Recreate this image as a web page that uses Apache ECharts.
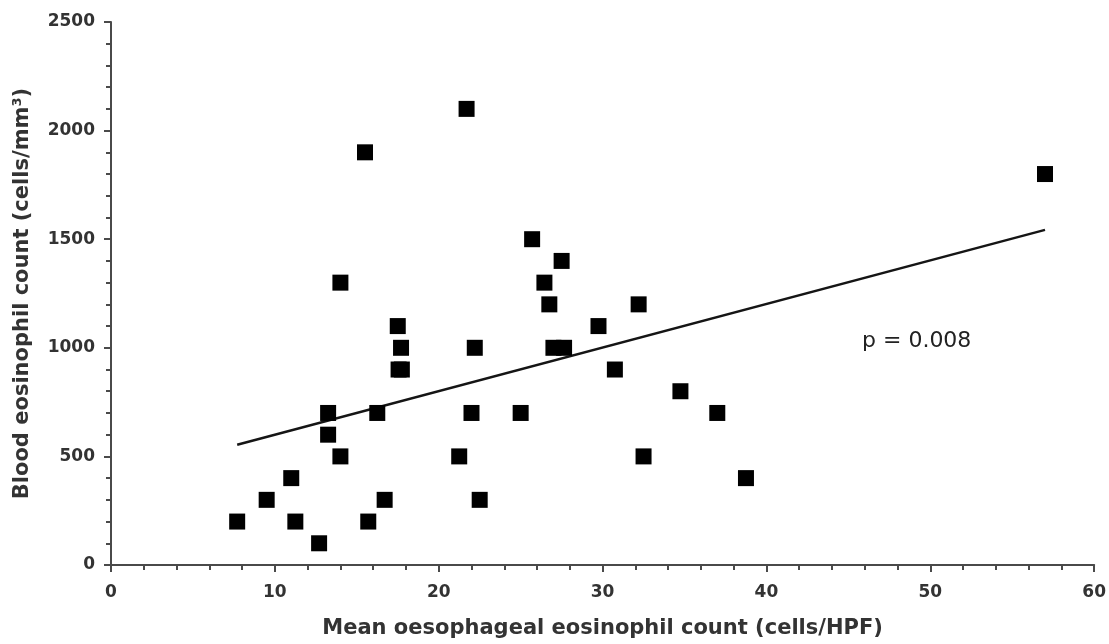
<!DOCTYPE html>
<html>
<head>
<meta charset="utf-8">
<title>Blood vs oesophageal eosinophil count</title>
<script src="https://cdn.jsdelivr.net/npm/echarts@6/dist/echarts.min.js"></script>
<style>
  html, body { margin: 0; padding: 0; background: #ffffff; }
  #chart { width: 1109px; height: 644px; }
</style>
</head>
<body>
<div id="chart"></div>
<script>
// Mean oesophageal eosinophil count (cells/HPF) per patient
const oesophagealCounts = [
  7.7, 9.5, 11.0, 11.25, 12.7, 13.25, 13.25, 14.0, 14.0, 15.5,
  15.7, 16.25, 16.7, 17.5, 17.7, 17.55, 17.75, 21.25, 21.7, 22.0,
  22.2, 22.5, 25.0, 25.7, 26.45, 26.75, 27.5, 27.0, 27.65, 29.75,
  30.75, 32.2, 32.5, 34.75, 37.0, 38.75, 57.0
];
// Blood eosinophil count (cells/mm³) for the same patients
const bloodCounts = [
  200, 300, 400, 200, 100, 700, 600, 500, 1300, 1900,
  200, 700, 300, 1100, 1000, 900, 900, 500, 2100, 700,
  1000, 300, 700, 1500, 1300, 1200, 1400, 1000, 1000, 1100,
  900, 1200, 500, 800, 700, 400, 1800
];
// Linear regression line end points [x, y]
const fitLine = [[7.7, 554], [57.0, 1543]];
const pLabel = 'p = 0.008';

const xTicks = { min: 0, max: 60, interval: 10 };
const yTicks = { min: 0, max: 2500, interval: 500 };

const points = oesophagealCounts.map((x, i) => [x, bloodCounts[i]]);

const FONT = '"DejaVu Sans", sans-serif';
const axisColor = '#4a4a4a';
const textColor = '#333333';

const chart = echarts.init(document.getElementById('chart'), null, { renderer: 'canvas' });

chart.setOption({
  backgroundColor: '#ffffff',
  animation: false,
  grid: { left: 111, right: 13, top: 22, bottom: 76, containLabel: false },
  xAxis: {
    type: 'value',
    min: xTicks.min, max: xTicks.max, interval: xTicks.interval,
    name: 'Mean oesophageal eosinophil count (cells/HPF)',
    nameLocation: 'middle',
    nameGap: 53,
    nameTextStyle: { fontFamily: FONT, fontWeight: 'bold', fontSize: 21, color: textColor },
    axisLine: { show: true, lineStyle: { color: axisColor, width: 2 } },
    axisTick: { show: true, inside: false, length: 7, lineStyle: { color: axisColor, width: 2 } },
    minorTick: { show: true, splitNumber: 5, length: 5, lineStyle: { color: axisColor, width: 2 } },
    splitLine: { show: false },
    axisLabel: {
      margin: 19, fontFamily: FONT, fontWeight: 'bold', fontSize: 17, color: textColor,
      formatter: v => String(v)
    }
  },
  yAxis: {
    type: 'value',
    min: yTicks.min, max: yTicks.max, interval: yTicks.interval,
    name: 'Blood eosinophil count (cells/mm³)',
    nameLocation: 'middle',
    nameRotate: 90,
    nameGap: 78,
    nameTextStyle: { fontFamily: FONT, fontWeight: 'bold', fontSize: 21, color: textColor },
    axisLine: { show: true, lineStyle: { color: axisColor, width: 2 } },
    axisTick: { show: true, inside: false, length: 7, lineStyle: { color: axisColor, width: 2 } },
    minorTick: { show: true, splitNumber: 5, length: 5, lineStyle: { color: axisColor, width: 2 } },
    splitLine: { show: false },
    axisLabel: {
      margin: 16, fontFamily: FONT, fontWeight: 'bold', fontSize: 17, color: textColor,
      formatter: v => String(v)
    }
  },
  series: [
    {
      name: 'Regression',
      type: 'line',
      data: fitLine,
      showSymbol: false,
      symbol: 'none',
      lineStyle: { color: '#151515', width: 2.5 },
      z: 2
    },
    {
      name: 'Patients',
      type: 'scatter',
      data: points,
      symbol: 'rect',
      symbolSize: 16,
      itemStyle: { color: '#000000', opacity: 1 },
      emphasis: { disabled: true },
      z: 3
    }
  ],
  graphic: [
    {
      type: 'text',
      left: 862,
      top: 330,
      style: {
        text: pLabel,
        font: 'normal 22px "DejaVu Sans", sans-serif',
        fill: '#222222'
      }
    }
  ]
});
</script>
</body>
</html>
